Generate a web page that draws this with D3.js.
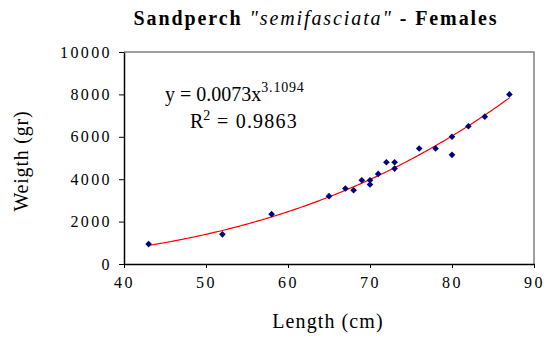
<!DOCTYPE html>
<html><head><meta charset="utf-8">
<script src="https://cdn.jsdelivr.net/npm/d3@7"></script>
<style>
html,body{margin:0;padding:0;background:#fff;}
svg{display:block;}
</style></head><body>
<svg id="chart" width="552" height="338"></svg>
<script>
const lengths = [43, 52, 58, 65, 67, 68, 69, 70, 70, 71, 72, 73, 73, 76, 78, 80, 80, 82, 84, 87];
const weights = [940, 1400, 2350, 3200, 3560, 3480, 3950, 3950, 3750, 4250, 4800, 4800, 4500, 5450, 5450, 6000, 5150, 6500, 6950, 8000];
const xTicks = [40, 50, 60, 70, 80, 90];
const yTicks = [0, 2000, 4000, 6000, 8000, 10000];
const trendCoef = [0.0073, 3.1094];
const trendRange = [43, 87];
const r2 = 0.9863;

const SERIF = "'Liberation Serif', 'Times New Roman', Times, serif";
const svg = d3.select("#chart");
const x = d3.scaleLinear().domain([40, 90]).range([124, 534]);
const y = d3.scaleLinear().domain([0, 10000]).range([264, 52]);

// plot border (top/right)
svg.append("path")
  .attr("d", `M${x(40)},${y(10000)}H${x(90)}V${y(0)}`)
  .attr("fill", "none").attr("stroke", "#808080").attr("stroke-width", 1.5);

const xAxis = svg.append("g").attr("transform", `translate(0,${y(0)})`)
  .call(d3.axisBottom(x).tickValues(xTicks).tickSize(4).tickSizeOuter(0).tickPadding(9));
const yAxis = svg.append("g").attr("transform", `translate(${x(40)},0)`)
  .call(d3.axisLeft(y).tickValues(yTicks).tickSize(5).tickSizeOuter(0).tickPadding(7).tickFormat(d3.format("d")));
[xAxis, yAxis].forEach(g => {
  g.attr("font-family", null).attr("font-size", null);
  g.select(".domain").attr("stroke", "#000").attr("stroke-width", 1.5);
  g.selectAll(".tick line").attr("stroke", "#000");
  g.selectAll(".tick text").style("font-family", SERIF).style("font-size", "16px")
    .style("letter-spacing", "2.4px").attr("fill", "#000");
});

// trendline
const tx = d3.range(trendRange[0], trendRange[1] + 0.001, 0.25);
const line = d3.line().x(d => x(d)).y(d => y(trendCoef[0] * Math.pow(d, trendCoef[1])));
svg.append("path").datum(tx).attr("d", line)
  .attr("fill", "none").attr("stroke", "#ff0000").attr("stroke-width", 1.2);

// points
const sym = d3.symbol().type(d3.symbolSquare).size(22);
svg.selectAll(".pt").data(lengths.map((l, i) => [l, weights[i]])).join("path")
  .attr("class", "pt")
  .attr("d", sym)
  .attr("transform", d => `translate(${x(d[0])},${y(d[1])}) rotate(45)`)
  .attr("fill", "#000080");

// title
const title = svg.append("text").attr("x", 316).attr("y", 25).attr("text-anchor", "middle")
  .style("font-family", SERIF).style("font-size", "20px").style("font-weight", "bold")
  .style("letter-spacing", "1.9px");
title.append("tspan").text("Sandperch ");
title.append("tspan").style("font-style", "italic").style("font-weight", "normal").text("\"semifasciata\"");
title.append("tspan").text(" - Females");

// equation
const eq = svg.append("text").attr("x", 165).attr("y", 101).style("font-family", SERIF).style("font-size", "20px");
eq.append("tspan").text(`y = ${trendCoef[0]}x`);
eq.append("tspan").attr("dy", -9).style("font-size", "14px").style("letter-spacing", "0.8px").text(trendCoef[1]);
const r = svg.append("text").attr("x", 190).attr("y", 128).style("font-family", SERIF).style("font-size", "20px");
r.append("tspan").text("R");
r.append("tspan").attr("dy", -8).style("font-size", "14px").text("2");
r.append("tspan").attr("dy", 8).attr("x", 217).style("letter-spacing", "1.2px").text(`= ${r2}`);

// axis titles
svg.append("text").attr("x", 328).attr("y", 328).attr("text-anchor", "middle")
  .style("font-family", SERIF).style("font-size", "20px").style("letter-spacing", "1.1px").text("Length (cm)");
svg.append("text").attr("transform", "translate(28,161) rotate(-90)").attr("text-anchor", "middle")
  .style("font-family", SERIF).style("font-size", "20px").style("letter-spacing", "0.8px").text("Weigth (gr)");
</script></body></html>
